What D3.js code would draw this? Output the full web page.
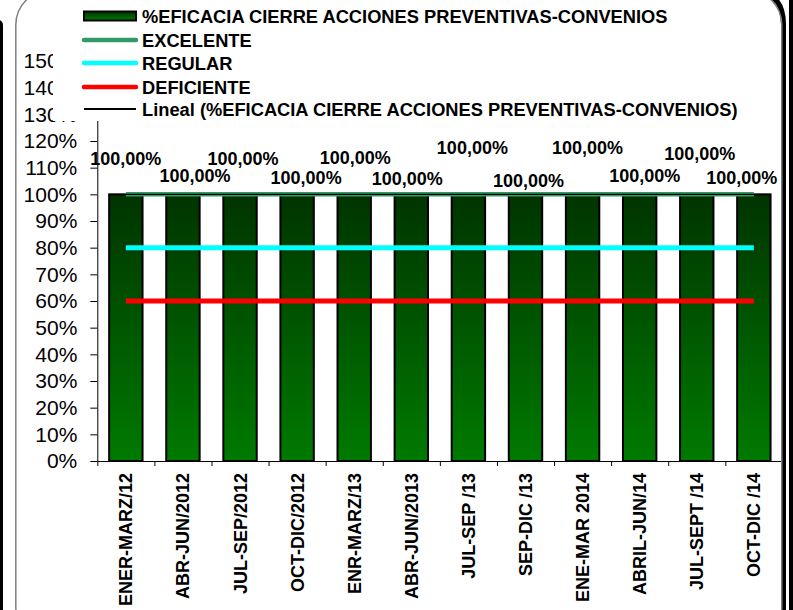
<!DOCTYPE html>
<html>
<head>
<meta charset="utf-8">
<script src="https://cdn.jsdelivr.net/npm/d3@7"></script>
<style>
  body { margin: 0; background: #fff; }
  svg { display: block; font-family: Arial, "Liberation Sans", sans-serif; }
</style>
</head>
<body>
<script>
const categories = ['ENER-MARZ/12', 'ABR-JUN/2012', 'JUL-SEP/2012', 'OCT-DIC/2012', 'ENR-MARZ/13', 'ABR-JUN/2013',
  'JUL-SEP /13', 'SEP-DIC /13', 'ENE-MAR 2014', 'ABRIL-JUN/14', 'JUL-SEPT /14', 'OCT-DIC /14']
const eficacia = [1, 1, 1, 1, 1, 1, 1, 1, 1, 1, 1, 1]
const excelente = [1, 1, 1, 1, 1, 1, 1, 1, 1, 1, 1, 1]
const regular = [0.8, 0.8, 0.8, 0.8, 0.8, 0.8, 0.8, 0.8, 0.8, 0.8, 0.8, 0.8]
const deficiente = [0.6, 0.6, 0.6, 0.6, 0.6, 0.6, 0.6, 0.6, 0.6, 0.6, 0.6, 0.6]
const yTicks = [0, 0.1, 0.2, 0.3, 0.4, 0.5, 0.6, 0.7, 0.8, 0.9, 1.0, 1.1, 1.2, 1.3, 1.4, 1.5]
const labelText = ['100,00%', '100,00%', '100,00%', '100,00%', '100,00%', '100,00%',
  '100,00%', '100,00%', '100,00%', '100,00%', '100,00%', '100,00%']
const legendNames = ['%EFICACIA CIERRE ACCIONES PREVENTIVAS-CONVENIOS', 'EXCELENTE', 'REGULAR', 'DEFICIENTE',
  'Lineal (%EFICACIA CIERRE ACCIONES PREVENTIVAS-CONVENIOS)']

chart()

function chart(){
  const w = 793
  const h = 610
  const left = 97.3
  const right = 782.4
  const bottom = 461
  const top = 61

  const svg = d3.select('body')
    .append('svg')
    .attr('width', w)
    .attr('height', h)

  const grad = svg.append('defs')
    .append('linearGradient')
    .attr('id', 'barGrad')
    .attr('x1', 0).attr('y1', 0).attr('x2', 0).attr('y2', 1)
  grad.append('stop').attr('offset', '0%').attr('stop-color', '#003400')
  grad.append('stop').attr('offset', '100%').attr('stop-color', '#007a00')

  const xScale = d3.scaleBand()
    .domain(categories)
    .range([left, right])
    .paddingInner(0.415)
    .paddingOuter(0.2075)
  const xEdge = d3.scaleLinear()
    .domain([0, categories.length])
    .range([left, right])
  const yScale = d3.scaleLinear()
    .domain([0, 1.5])
    .range([bottom, top])

  const center = c => xScale(c) + xScale.bandwidth() / 2

  // bars
  svg.selectAll('rect.bar')
    .data(eficacia)
    .enter()
    .append('rect')
    .attr('class', 'bar')
    .attr('x', (d, i) => xScale(categories[i]))
    .attr('y', d => yScale(d))
    .attr('width', xScale.bandwidth())
    .attr('height', d => bottom - yScale(d))
    .attr('fill', 'url(#barGrad)')
    .attr('stroke', '#000')
    .attr('stroke-width', 2)

  // reference lines
  const line = d3.line()
    .x((d, i) => center(categories[i]))
    .y(d => yScale(d))

  const refs = [
    [excelente, '#339966', 4.5],
    [regular, '#00ffff', 5],
    [deficiente, '#ff0000', 5]
  ]
  refs.forEach(r => {
    svg.append('path')
      .attr('d', line(r[0]))
      .attr('fill', 'none')
      .attr('stroke', r[1])
      .attr('stroke-width', r[2])
  })

  // linear trend of the bar series
  const n = eficacia.length
  const mx = d3.mean(d3.range(n))
  const my = d3.mean(eficacia)
  const sxx = d3.sum(d3.range(n), i => (i - mx) * (i - mx))
  const slope = d3.sum(d3.range(n), i => (i - mx) * (eficacia[i] - my)) / sxx
  const trend = d3.range(n).map(i => my + slope * (i - mx))
  svg.append('path')
    .attr('d', line(trend))
    .attr('fill', 'none')
    .attr('stroke', '#000')
    .attr('stroke-width', 1.3)

  // data labels, shifted by hand like the original
  const labelShift = [[0, -36], [12, -19], [3, -36], [9, -17], [1, -37], [-4, -16],
    [4, -47], [3, -14], [5, -47], [5, -19], [3, -41], [-12, -17]]
  svg.selectAll('text.lbl')
    .data(eficacia)
    .enter()
    .append('text')
    .attr('class', 'lbl')
    .attr('x', (d, i) => center(categories[i]) + labelShift[i][0])
    .attr('y', (d, i) => yScale(d) + labelShift[i][1])
    .attr('dy', '0.36em')
    .attr('text-anchor', 'middle')
    .attr('font-weight', 'bold')
    .attr('font-size', 18)
    .text((d, i) => labelText[i])

  // axes
  const yAxis = d3.axisLeft(yScale)
    .tickValues(yTicks)
    .tickFormat(d3.format('.0%'))
    .tickSize(7)
    .tickSizeOuter(0)
    .tickPadding(13)
  const gy = svg.append('g')
    .attr('transform', `translate(${left}, 0)`)
    .call(yAxis)
  gy.selectAll('text').attr('font-size', 21).attr('fill', '#000').attr('font-family', 'Arial, "Liberation Sans", sans-serif')
  gy.selectAll('path, line').attr('stroke', '#000')

  const xTicks = d3.axisBottom(xEdge)
    .tickValues(d3.range(categories.length + 1))
    .tickFormat('')
    .tickSize(5)
    .tickSizeOuter(0)
  const gx = svg.append('g')
    .attr('transform', `translate(0, ${bottom})`)
    .call(xTicks)
  gx.selectAll('path, line').attr('stroke', '#000')

  const xLabels = d3.axisBottom(xScale).tickSize(0)
  const gl = svg.append('g')
    .attr('transform', `translate(0, ${bottom})`)
    .call(xLabels)
  gl.select('.domain').remove()
  gl.selectAll('text')
    .attr('transform', 'rotate(-90)')
    .attr('x', -12)
    .attr('y', 0)
    .attr('dy', '0.36em')
    .attr('text-anchor', 'end')
    .attr('font-size', 18)
    .attr('font-weight', 'bold')
    .attr('fill', '#000')
    .attr('font-family', 'Arial, "Liberation Sans", sans-serif')

  // legend box sits over the top of the plot
  const lg = svg.append('g')
  lg.append('rect')
    .attr('x', 53)
    .attr('y', 0)
    .attr('width', 720)
    .attr('height', 121)
    .attr('fill', '#fff')

  const rowY = [16, 40, 63, 87, 109]
  lg.append('rect')
    .attr('x', 84).attr('y', rowY[0] - 4.5)
    .attr('width', 52).attr('height', 9)
    .attr('fill', 'url(#barGrad)')
    .attr('stroke', '#000')
    .attr('stroke-width', 2)
  const legLines = [['#339966', 4.5], ['#00ffff', 4.5], ['#ff0000', 4.5], ['#000', 2]]
  legLines.forEach((l, i) => {
    lg.append('line')
      .attr('x1', 84).attr('x2', 136)
      .attr('y1', rowY[i + 1]).attr('y2', rowY[i + 1])
      .attr('stroke', l[0])
      .attr('stroke-width', l[1])
      .attr('stroke-linecap', l[1] > 3 ? 'round' : 'butt')
  })
  lg.selectAll('text')
    .data(legendNames)
    .enter()
    .append('text')
    .attr('x', 142)
    .attr('y', (d, i) => rowY[i])
    .attr('dy', '0.36em')
    .attr('font-size', 18.3)
    .attr('font-weight', 'bold')
    .text(d => d)

  // frame
  svg.append('rect')
    .attr('x', -6).attr('y', 20)
    .attr('width', 9).attr('height', 620)
    .attr('rx', 5)
    .attr('fill', '#000')
  svg.append('rect')
    .attr('x', 784).attr('y', 0)
    .attr('width', 10).attr('height', h)
    .attr('fill', '#fff')
  svg.append('path')
    .attr('d', 'M 762 -6 Q 783 -4 783.5 24 L 783.5 620')
    .attr('fill', 'none')
    .attr('stroke', '#000')
    .attr('stroke-width', 5)
  svg.append('rect')
    .attr('x', 789).attr('y', 0)
    .attr('width', 4).attr('height', h)
    .attr('fill', '#000')
  svg.append('rect')
    .attr('x', 15.8).attr('y', -10)
    .attr('width', 766).attr('height', 652)
    .attr('rx', 35)
    .attr('fill', 'none')
    .attr('stroke', '#7f7f7f')
    .attr('stroke-width', 1.5)
}
</script>
</body>
</html>
